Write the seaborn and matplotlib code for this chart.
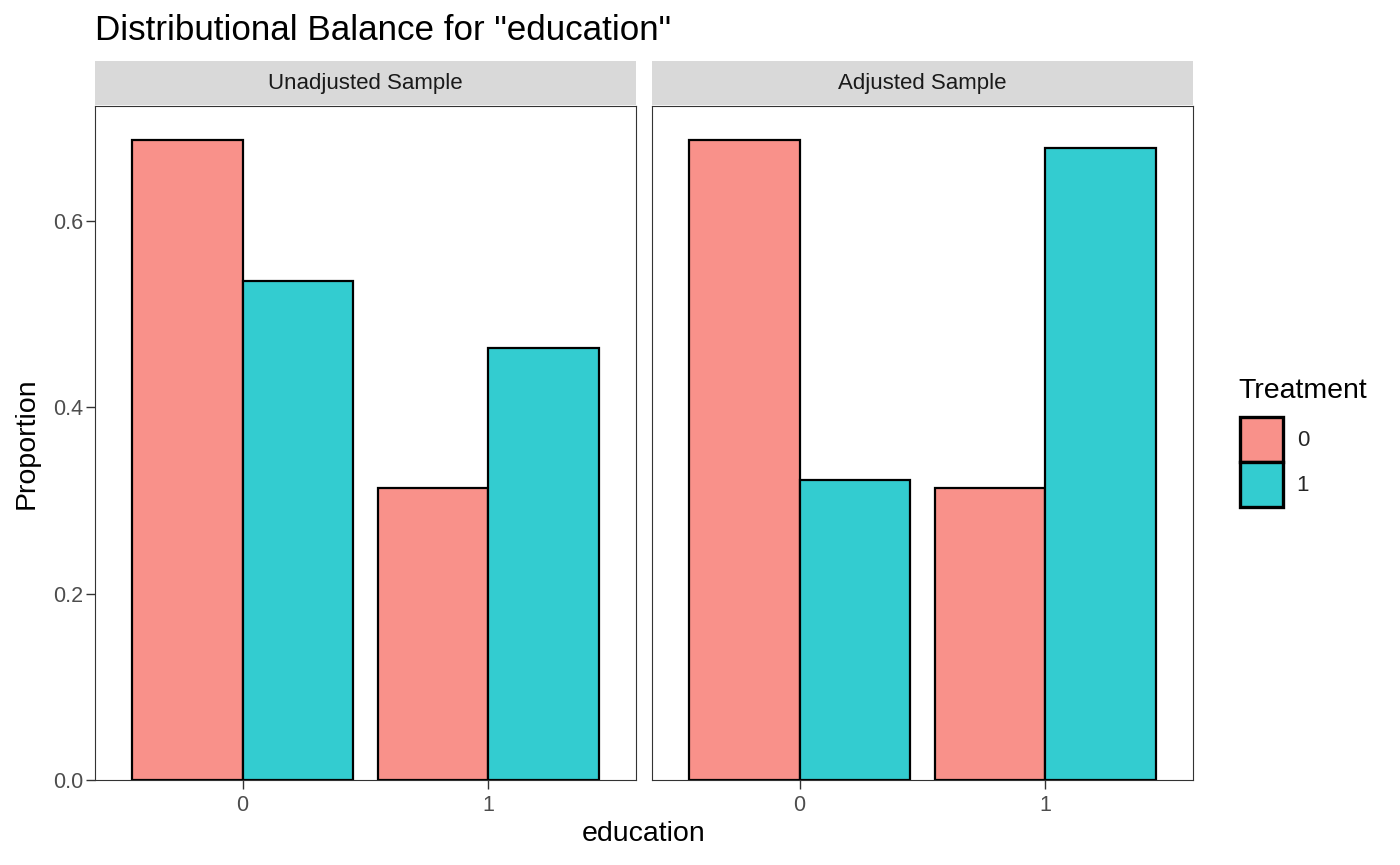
import matplotlib
matplotlib.use("Agg")
import matplotlib.pyplot as plt
from matplotlib.patches import Patch, Rectangle
import pandas as pd
import seaborn as sns

education = ["0", "1"]
treatment = ["0", "1"]
panels = ["Unadjusted Sample", "Adjusted Sample"]
# proportion per education level, one list per treatment group
unadj_t0 = [0.687, 0.313]
unadj_t1 = [0.536, 0.464]
adj_t0 = [0.687, 0.313]
adj_t1 = [0.322, 0.678]
fills = ["#F9918A", "#33CCD0"]

sns.set_style("white")
plt.rcParams["font.family"] = ["Liberation Sans", "DejaVu Sans"]

W, H = 1400, 865
fig = plt.figure(figsize=(14, 8.65), dpi=100)


def make_frame(t0, t1):
    rows = []
    for i, ed in enumerate(education):
        rows.append([ed, treatment[0], t0[i]])
        rows.append([ed, treatment[1], t1[i]])
    return pd.DataFrame(rows, columns=["education", "Treatment", "Proportion"])


frames = [make_frame(unadj_t0, unadj_t1), make_frame(adj_t0, adj_t1)]
lefts = [95, 652]
pw, top, bottom = 541, 106, 780

for k, (name, df) in enumerate(zip(panels, frames)):
    ax = fig.add_axes([lefts[k] / W, (H - bottom) / H, pw / W, (bottom - top) / H])
    sns.barplot(data=df, x="education", y="Proportion", hue="Treatment",
                hue_order=treatment, order=education, palette=fills,
                saturation=1, width=0.9, gap=0, edgecolor="black",
                linewidth=1.6, legend=False, ax=ax)
    ax.set_xlim(-0.6, 1.6)
    ax.set_ylim(0, 0.7234)
    ax.set_xlabel("")
    ax.set_ylabel("")
    ax.set_xticks([0, 1])
    ax.set_xticklabels(education)
    for s in ax.spines.values():
        s.set_color("#333333")
        s.set_linewidth(0.8)
    ax.tick_params(axis="x", bottom=True, length=6.5, width=1.0, color="#333333",
                   labelcolor="#4D4D4D", labelsize=15.5, pad=4)
    ax.set_yticks([0, 0.2, 0.4, 0.6])
    if k == 0:
        ax.set_yticklabels(["0.0", "0.2", "0.4", "0.6"])
        ax.tick_params(axis="y", left=True, length=6.5, width=1.0, color="#333333",
                       labelcolor="#4D4D4D", labelsize=15.5, pad=2)
    else:
        ax.tick_params(axis="y", left=False, labelleft=False)
    # facet strip
    one = 1 / (bottom - top)
    sh = 44 * one
    ax.add_patch(Rectangle((0, 1.0 + one), 1, sh, transform=ax.transAxes,
                           facecolor="#D9D9D9", edgecolor="none", clip_on=False))
    ax.text(0.5, 1.0 + one + sh / 2, name, transform=ax.transAxes,
            ha="center", va="center", fontsize=16, color="#1A1A1A")

fig.text(95 / W, 1 - 40 / H, 'Distributional Balance for "education"',
         ha="left", va="baseline", fontsize=25.2, color="black")
fig.text(644 / W, 1 - 834 / H, "education", ha="center", va="center",
         fontsize=20.5, color="black")
fig.text(27 / W, 1 - 443 / H, "Proportion", ha="center", va="center",
         rotation=90, fontsize=20.5, color="black")

# legend: title placed separately to get the ggplot spacing
fig.text(1238 / W, 1 - 391 / H, "Treatment", ha="left", va="center",
         fontsize=20.5, color="black")
handles = [Patch(facecolor=c, edgecolor="black", linewidth=2.4) for c in fills]
leg = fig.legend(handles, treatment, loc="upper left",
                 bbox_to_anchor=(1240 / W, 1 - 417 / H), frameon=False,
                 fontsize=16, handlelength=1.95,
                 handleheight=2.75, labelspacing=0.0, handletextpad=0.6,
                 borderaxespad=0, borderpad=0)

fig.savefig("out.png", dpi=100)
